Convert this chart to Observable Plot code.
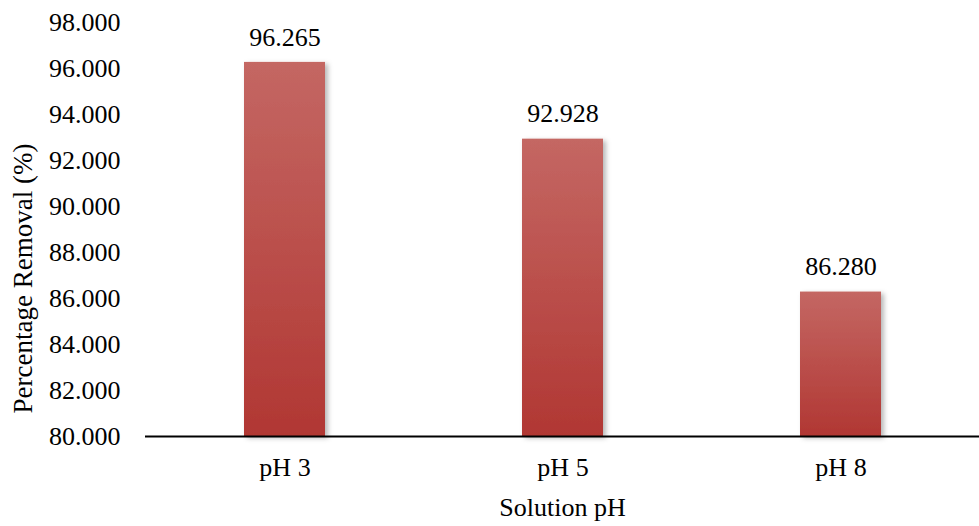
<!DOCTYPE html>
<html>
<head>
<meta charset="utf-8">
<script src="https://cdn.jsdelivr.net/npm/d3@7"></script>
<script src="https://cdn.jsdelivr.net/npm/@observablehq/plot@0.6"></script>
<style>
  html, body { margin: 0; padding: 0; background: #fff; }
  #chart { width: 979px; height: 526px; }
</style>
</head>
<body>
<div id="chart"></div>
<script>
// Percentage removal at each solution pH
const categories = ["pH 3", "pH 5", "pH 8"];
const removal = [96.265, 92.928, 86.280];
const yTicks = [80, 82, 84, 86, 88, 90, 92, 94, 96, 98];

const data = categories.map((c, i) => ({ ph: c, value: removal[i] }));
const fmt = d3.format(".3f");
const serif = "'Liberation Serif', 'Times New Roman', serif";

const chart = Plot.plot({
  width: 979,
  height: 526,
  marginTop: 22,
  marginBottom: 90,
  marginLeft: 145,
  marginRight: 0,
  style: { fontFamily: serif, fontSize: "26px", color: "#000", background: "#fff" },
  x: { type: "band", domain: categories, paddingInner: 0.709, paddingOuter: 0.3545, label: null },
  y: { domain: [80, 98], label: null },
  marks: [
    Plot.barY(data, {
      x: "ph", y1: 80, y2: "value",
      fill: "url(#barGrad)", className: "bars"
    }),
    Plot.text(data, {
      x: "ph", y: "value", text: d => fmt(d.value),
      dy: -25, fontSize: 26, fill: "#000"
    }),
    Plot.ruleY([80], { stroke: "#000", strokeWidth: 2.2 }),
    Plot.axisY({ ticks: yTicks, tickFormat: fmt, tickSize: 0, tickPadding: 25, fontSize: 26, label: null }),
    Plot.axisX({ tickSize: 0, tickPadding: 21, fontSize: 26, label: null }),
    Plot.text(["Percentage Removal (%)"], {
      frameAnchor: "left", textAnchor: "middle", lineAnchor: "middle",
      dx: -122, dy: 49, rotate: -90, fontSize: 27, fill: "#000"
    }),
    Plot.text(["Solution pH"], {
      frameAnchor: "bottom", lineAnchor: "middle", dy: 71, fontSize: 26, fill: "#000"
    })
  ]
});

// Gradient fill and soft shadow for the bars
const svg = d3.select(chart);
const defs = svg.insert("defs", ":first-child");
const grad = defs.append("linearGradient")
  .attr("id", "barGrad").attr("x1", 0).attr("y1", 0).attr("x2", 0).attr("y2", 1);
grad.append("stop").attr("offset", "0%").attr("stop-color", "#c46763");
grad.append("stop").attr("offset", "100%").attr("stop-color", "#b13733");
const f = defs.append("filter").attr("id", "barShadow")
  .attr("x", "-20%").attr("y", "-10%").attr("width", "140%").attr("height", "120%");
f.append("feDropShadow").attr("dx", 3).attr("dy", 2).attr("stdDeviation", 2.5)
  .attr("flood-color", "#000").attr("flood-opacity", 0.28);
svg.selectAll(".bars rect").attr("filter", "url(#barShadow)");
svg.selectAll("text").style("font-family", serif);

document.getElementById("chart").appendChild(chart);
</script>
</body>
</html>
